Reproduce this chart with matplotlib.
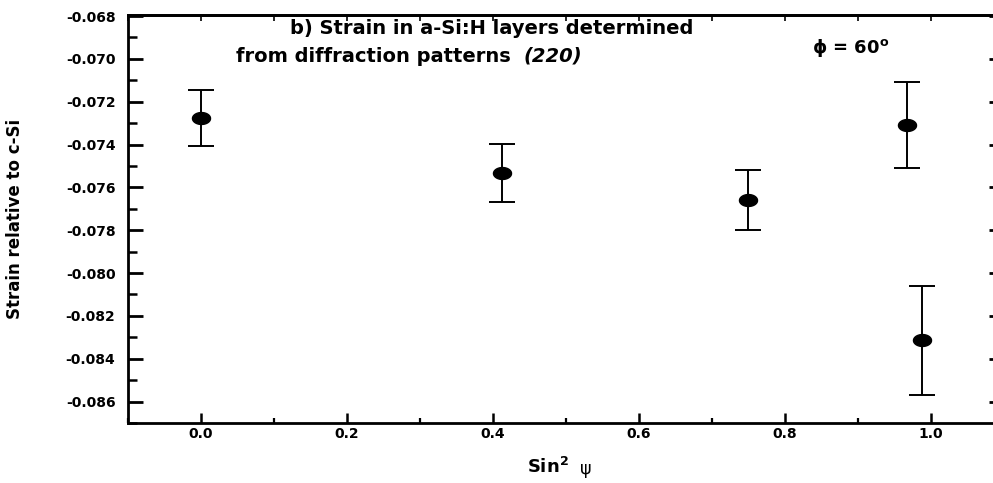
import numpy as np
import matplotlib
matplotlib.use("Agg")
import matplotlib.pyplot as plt
from matplotlib.path import Path
from matplotlib.ticker import MultipleLocator, FormatStrFormatter, NullFormatter

# data
sin2psi = [0.0, 0.412, 0.75, 0.967, 0.988]
strain = [-0.07276, -0.07532, -0.0766, -0.07308, -0.08311]
err_lo = [0.0013, 0.00136, 0.0014, 0.0020, 0.00257]
err_hi = [0.0013, 0.00135, 0.0014, 0.0020, 0.00252]

title1 = "b) Strain in a-Si:H layers determined"
title2 = "from diffraction patterns"
title2_hkl = "(220)"
phi_label = r"$\phi$ = 60$^{o}$"
xlabel = r"Sin$^{2}$"
xlabel_psi = "ψ"
ylabel = "Strain relative to c-Si"

plt.rcParams['font.family'] = ['DejaVu Sans']
plt.rcParams['font.weight'] = 'bold'
plt.rcParams['axes.unicode_minus'] = False
plt.rcParams['mathtext.default'] = 'regular'

W, H = 993, 483
fig = plt.figure(figsize=(W / 100, H / 100), dpi=100)
ax = fig.add_axes([128 / W, 60 / H, 876 / W, 408 / H])

# filled ellipse marker
t = np.linspace(0, 2 * np.pi, 64)
ellipse = Path(np.column_stack([np.cos(t), 0.66 * np.sin(t)]))

ax.errorbar(sin2psi, strain, yerr=[err_lo, err_hi], fmt='none', ecolor='k',
            elinewidth=1.4, capsize=9.5, capthick=1.4)
ax.plot(sin2psi, strain, ls='none', marker=ellipse, ms=13, color='k')

ax.set_xlim(-0.1, 1.1)
ax.set_ylim(-0.087, -0.06795)

ax.xaxis.set_major_locator(MultipleLocator(0.2))
ax.xaxis.set_minor_locator(MultipleLocator(0.1))
ax.xaxis.set_major_formatter(FormatStrFormatter('%.1f'))
ax.yaxis.set_major_locator(MultipleLocator(0.002))
ax.yaxis.set_minor_locator(MultipleLocator(0.001))
ax.yaxis.set_major_formatter(FormatStrFormatter('%.3f'))

for s in ax.spines.values():
    s.set_linewidth(2)

ax.tick_params(axis='y', which='major', direction='in', length=11, width=2,
               labelsize=10, pad=9)
ax.tick_params(axis='y', which='minor', direction='in', length=6.5, width=1.8)
ax.tick_params(axis='x', which='major', direction='in', length=7, width=1.8,
               labelsize=10, pad=3)
ax.tick_params(axis='x', which='minor', direction='in', length=3.5, width=1.6)

# top and right ticks
top = ax.secondary_xaxis('top')
top.xaxis.set_major_locator(MultipleLocator(0.1))
top.xaxis.set_major_formatter(NullFormatter())
top.tick_params(direction='in', length=4, width=1.2)
top.spines['top'].set_linewidth(2)
right = ax.secondary_yaxis('right')
right.yaxis.set_major_locator(MultipleLocator(0.002))
right.yaxis.set_minor_locator(MultipleLocator(0.001))
right.yaxis.set_major_formatter(NullFormatter())
right.tick_params(which='major', direction='in', length=11, width=2)
right.tick_params(which='minor', direction='in', length=5, width=1)
right.spines['right'].set_linewidth(2)

ax.set_ylabel(ylabel, fontsize=12, fontweight='bold')
ax.yaxis.set_label_coords((24 - 128) / 876, 0.5)
ax.set_xlabel(xlabel, fontsize=13, fontweight='bold')
ax.xaxis.set_label_coords((548 - 128) / 876, (423 - 457) / 408)
ax.annotate(xlabel_psi, xy=(1, 0), xycoords=ax.xaxis.label, xytext=(8, -1),
            textcoords='offset points', ha='left', va='bottom',
            fontsize=12.5, fontweight='normal')

fig.text(492 / W, 1 - 29 / H, title1, ha='center', va='center',
         fontsize=14, fontweight='bold')
t2 = fig.text(236 / W, 1 - 56 / H, title2, ha='left', va='center',
              fontsize=14, fontweight='bold')
ax.annotate(title2_hkl, xy=(1, 0), xycoords=t2, xytext=(9, 0),
            textcoords='offset points', ha='left', va='bottom',
            fontsize=14, fontweight='bold', fontstyle='italic')
fig.text(812 / W, 1 - 53 / H, phi_label, ha='left', va='baseline',
         fontsize=13, fontweight='bold')

fig.savefig("out.png", dpi=100)
